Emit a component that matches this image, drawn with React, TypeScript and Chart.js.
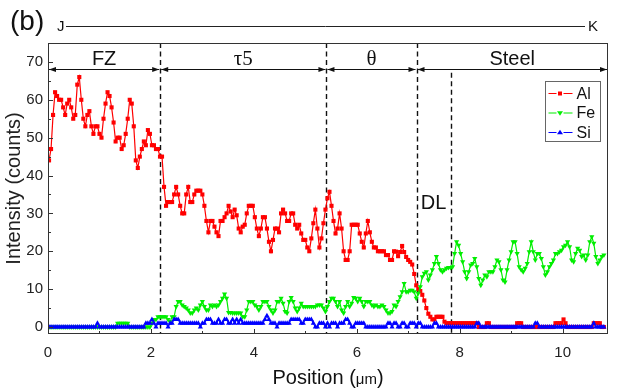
import { useEffect, useRef } from "react";
import { Chart, registerables } from "chart.js";

Chart.register(...registerables);

const SANS = '"Liberation Sans", Arial, Helvetica, sans-serif';
const SERIF = '"Liberation Serif", "Times New Roman", serif';

// ---- data ----
const X_START = 0.02;
const X_STEP = 0.0392;

const AL_COUNTS = [
  44, 47, 56, 62, 61, 60, 60, 58, 56, 59,
  60, 58, 55, 56, 64, 66, 60, 55, 53, 56,
  57, 53, 51, 53, 53, 51, 50, 55, 59, 62,
  61, 58, 54, 49, 50, 50, 47, 48, 51, 55,
  60, 59, 53, 44, 42, 45, 47, 49, 48, 52,
  51, 48, 48, 47, 47, 45, 45,
  37, 32, 33, 33, 33, 35, 37, 35, 32, 30,
  30, 35, 37, 33, 33, 35, 36, 36, 36, 35,
  32, 28, 25, 28, 28, 26.5, 25, 24, 28, 28,
  29, 30, 32, 30.5, 29, 31, 29.5, 26, 25, 26.5,
  27, 30, 32, 32, 32, 29, 26, 24, 26, 29,
  29, 26, 22.5, 20, 23, 26, 26, 25,
  30, 31, 30, 28, 28, 30, 30, 27, 26, 27,
  24.7, 23, 23, 21, 20, 23.4, 27.4, 31, 26, 21,
  23.4, 27.4, 31, 34, 35.7, 32, 28, 24.7, 26, 30,
  26, 20, 17.7, 17.7, 20, 27, 27, 27, 27, 24.7,
  22.5, 21, 24.7, 28, 25, 22.5, 21, 21, 20, 20,
  20, 20, 19, 19, 17.7, 17.7, 20,
  19.9, 18.7, 19.8, 21.4, 19.8, 18.5, 17.7, 17.2, 16.5, 14,
  11, 10, 9.5, 8.5, 7, 5, 3.5, 2.7, 2, 2,
  2.7, 2.7, 2.7, 2.7, 1.4,
  1, 1, 1, 1, 1, 1, 1, 1, 1, 1,
  1, 1, 1, 1, 1, 1, 0, 0, 0, 0,
  1, 1, 0, 0, 0, 0, 0, 0, 0, 0,
  0, 0, 0, 0, 0, 1, 1, 1, 0, 0,
  0, 0, 0, 0, 0, 0, 0, 0, 0, 0,
  0, 0, 0, 0, 1, 1, 1, 1, 2, 1,
  0, 0, 0, 0, 0, 0, 0, 0, 0, 0,
  0, 0, 0, 1, 1, 1, 1, 0, 0,
];

const FE_COUNTS = [
  0, 0, 0, 0, 0, 0, 0, 0, 0, 0,
  0, 0, 0, 0, 0, 0, 0, 0, 0, 0,
  0, 0, 0, 0, 0, 0, 0, 0, 0, 0,
  0, 0, 0, 0, 1, 1, 1, 1, 1, 1,
  0, 0, 0, 0, 0, 0, 0, 0, 0, 0,
  0, 1, 2, 2, 2.7,
  2.7, 2.7, 2.7, 2.7, 2.0, 1.4, 2.7, 2.7, 5.4, 6.7,
  6.7, 5.8, 5.4, 5, 4.5, 3.7, 3.7, 4.5, 5, 4.5,
  5.8, 6.7, 5.4, 4.5, 4.5, 5.8, 5.4, 5.8, 5.4, 5.8,
  6.7, 7.6, 8.7, 7.6, 3.8, 3.8, 3.7, 3.7, 3.7, 3.7,
  3.7, 2.7, 2.7, 4.5, 6.7, 6.7, 6.7, 5.8, 5.4, 4.5,
  5.4, 6.7, 6.7, 6.7, 5.4, 4.5, 3.7, 4.5, 6.7, 6.7,
  7.6, 6.3, 4.1, 3.7, 6.7, 7.8, 6.7, 5, 4.1, 5,
  6.3, 5.4, 5.4, 5.4, 5.4, 5.4, 5.4, 5.4, 5.8, 5.8,
  5.8, 5, 4.1, 5.4, 6.7, 7.6, 7.6, 6.7, 5.4, 6.7,
  4.5, 3.7, 5.4, 6.7, 5.4, 6.3, 7.8, 7.6, 6.7, 7.6,
  6.7, 5.4, 6.7, 6.7, 6.7, 5.8, 5.4, 5.8, 5.4, 5.4,
  5.8, 5.4, 4.5, 3.7, 3.7, 4.1, 5.8,
  5.4, 6.7, 8, 9.3, 11.5, 9.3, 9.3, 9.7, 9.7, 9.3,
  7.6, 8.9, 10.6, 13.3, 14.2, 14.6, 12.4, 13.7, 15.1, 16.8,
  18.6, 16.8, 15.1, 14.6, 15.1, 15.5, 15.7, 15.7, 15.9, 19.4,
  22.5, 21.6, 19.4, 17.2, 14.6, 12.8, 14.6, 16.4, 16.8, 18.1,
  15.9, 12.8, 11, 12.4, 13.7, 13.3, 14.6, 14.6, 14.6, 15.9,
  17.7, 17.2, 15.1,
  12.4, 11.9, 15.1, 17.7, 19.9, 22.5, 22.5, 19.4, 15.9, 15.1,
  14.6, 15.5, 16.8, 19.9, 22.5, 19.9, 17.7, 19.4, 19.4, 18.1,
  15.9, 13.7, 14.6, 15.9, 16.8, 17.7, 19.4, 19.4, 19.9, 20.3,
  21.2, 21.6, 22.5, 21.2, 17.7, 17.2, 19.4, 20.8, 20.3, 18.6,
  19, 17.7, 19, 22.5, 23.8, 22.1, 18.6, 16.8, 17.7, 18.6,
  19,
];

const SI_COUNTS = [
  0, 0, 0, 0, 0, 0, 0, 0, 0, 0,
  0, 0, 0, 0, 0, 0, 0, 0, 0, 0,
  0, 0, 0, 0, 1, 0, 0, 0, 0, 0,
  0, 0, 0, 0, 0, 0, 0, 0, 0, 0,
  0, 0, 0, 0, 0, 0, 0, 0, 1, 1,
  1, 2, 1, 0, 1,
  1, 1, 1, 1, 0, 1, 1, 2, 2, 2,
  1, 1, 1, 1, 1, 1, 1, 1, 1, 1,
  0, 1, 1, 2, 2, 2, 1, 1, 1, 2,
  1, 1, 2, 2, 1, 1, 2, 1, 2, 1,
  2, 1, 1, 1, 1, 1, 1, 1, 1, 1,
  1, 1, 2, 3, 2, 1, 1, 1, 0, 1,
  1, 1, 1, 1, 1, 2, 2, 2, 2, 2,
  1, 1, 2, 2, 2, 2, 1, 0, 0, 1,
  1, 1, 0, 1, 0, 1, 1, 1, 0, 1,
  1, 1, 2, 2, 1, 0, 0, 1, 1, 1,
  1, 1, 0, 0, 0, 0, 0, 0, 0, 0,
  0, 0, 0, 1, 1, 0, 1,
  1, 0, 0, 1, 1, 0, 0, 1, 1, 1,
  0, 1, 1, 0, 0, 0, 0, 0, 0, 1,
  1, 0, 0, 0, 0, 0, 0, 0, 0, 0,
  0, 0, 0, 0, 0, 0, 0, 0, 0, 0,
  1, 1, 0, 0, 0, 0, 0, 0, 0, 0,
  0, 0, 0, 0, 0, 0, 0, 0, 0, 0,
  0, 0, 0, 0, 0, 0, 0, 0, 0, 1,
  1, 0, 0, 0, 0, 0, 0, 0, 0, 0,
  0, 0, 0, 0, 0, 0, 0, 0, 0, 0,
  0, 0, 0, 0, 0, 0, 0, 0, 1, 0,
  0, 0, 0, 0,
];

const POSITIONS = AL_COUNTS.map((_, i) => X_START + i * X_STEP);

const SERIES_NAMES = ["Al", "Fe", "Si"];
const X_TICKS = [0, 2, 4, 6, 8, 10];
const X_MINOR_TICKS = [1, 3, 5, 7, 9];
const Y_TICKS = [0, 10, 20, 30, 40, 50, 60, 70];
const Y_MINOR_TICKS = [5, 15, 25, 35, 45, 55, 65];
const X_MIN = 0;
const X_MAX = 10.88;
const Y_MIN = -1.85;
const Y_MAX = 75;
const PHASE_LABELS = ["FZ", "τ5", "θ", "Steel"];
const PHASE_EDGES = [0, 2.18, 5.41, 7.16, 10.88];
const DL_EDGE = 7.82;
const ARROW_LEVEL = 68.2;
const DL_LABEL_POS = [7.49, 32.6];

const COLORS = ["#ff0000", "#00ee00", "#0000ff"];

function toPoints(values: number[]) {
  return values.map((v, i) => ({ x: POSITIONS[i], y: v }));
}

function drawMarker(ctx: CanvasRenderingContext2D, kind: number, x: number, y: number) {
  ctx.fillStyle = COLORS[kind];
  ctx.beginPath();
  if (kind === 0) {
    ctx.rect(x - 2, y - 2, 4, 4);
  } else if (kind === 1) {
    ctx.moveTo(x - 3, y - 1.8);
    ctx.lineTo(x + 3, y - 1.8);
    ctx.lineTo(x, y + 2.8);
    ctx.closePath();
  } else {
    ctx.moveTo(x - 3, y + 1.8);
    ctx.lineTo(x + 3, y + 1.8);
    ctx.lineTo(x, y - 2.8);
    ctx.closePath();
  }
  ctx.fill();
}

function arrowHead(ctx: CanvasRenderingContext2D, x: number, y: number, dir: number) {
  ctx.beginPath();
  ctx.moveTo(x, y);
  ctx.lineTo(x - dir * 7, y - 2.6);
  ctx.lineTo(x - dir * 7, y + 2.6);
  ctx.closePath();
  ctx.fill();
}

const overlayPlugin = {
  id: "overlay",
  beforeDatasetsDraw(chart: any) {
    const { ctx, chartArea: a, scales } = chart;
    const xs = scales.x;
    const ys = scales.y;
    ctx.save();
    ctx.strokeStyle = "#111";
    ctx.lineWidth = 1.4;
    ctx.setLineDash([5, 3.5]);
    for (let k = 1; k < PHASE_EDGES.length - 1; k++) {
      const px = Math.round(xs.getPixelForValue(PHASE_EDGES[k])) + 0.5;
      ctx.beginPath();
      ctx.moveTo(px, a.top);
      ctx.lineTo(px, a.bottom);
      ctx.stroke();
    }
    const dx = Math.round(xs.getPixelForValue(DL_EDGE)) + 0.5;
    ctx.beginPath();
    ctx.moveTo(dx, ys.getPixelForValue(ARROW_LEVEL) + 4);
    ctx.lineTo(dx, a.bottom);
    ctx.stroke();
    ctx.restore();
  },
  afterDatasetsDraw(chart: any) {
    const { ctx, chartArea: a, scales } = chart;
    const xs = scales.x;
    const ys = scales.y;
    ctx.save();
    // frame
    ctx.strokeStyle = "#333";
    ctx.lineWidth = 1;
    ctx.strokeRect(a.left + 0.5, a.top + 0.5, a.right - a.left - 1, a.bottom - a.top - 1);
    // inward ticks
    ctx.beginPath();
    X_TICKS.forEach((v) => {
      const px = Math.round(xs.getPixelForValue(v)) + 0.5;
      ctx.moveTo(px, a.bottom);
      ctx.lineTo(px, a.bottom - 5);
    });
    X_MINOR_TICKS.forEach((v) => {
      const px = Math.round(xs.getPixelForValue(v)) + 0.5;
      ctx.moveTo(px, a.bottom);
      ctx.lineTo(px, a.bottom - 3);
    });
    Y_TICKS.forEach((v) => {
      const py = Math.round(ys.getPixelForValue(v)) + 0.5;
      ctx.moveTo(a.left, py);
      ctx.lineTo(a.left + 5, py);
    });
    Y_MINOR_TICKS.forEach((v) => {
      const py = Math.round(ys.getPixelForValue(v)) + 0.5;
      ctx.moveTo(a.left, py);
      ctx.lineTo(a.left + 3, py);
    });
    ctx.stroke();

    // phase arrows
    const ay = Math.round(ys.getPixelForValue(ARROW_LEVEL)) + 0.5;
    ctx.strokeStyle = "#111";
    ctx.fillStyle = "#111";
    ctx.lineWidth = 1;
    for (let k = 0; k < PHASE_EDGES.length - 1; k++) {
      const x1 = xs.getPixelForValue(PHASE_EDGES[k]) + 1;
      const x2 = xs.getPixelForValue(PHASE_EDGES[k + 1]) - 1;
      ctx.beginPath();
      ctx.moveTo(x1, ay);
      ctx.lineTo(x2, ay);
      ctx.stroke();
      arrowHead(ctx, x1, ay, -1);
      arrowHead(ctx, x2, ay, 1);
      const cx = (xs.getPixelForValue(PHASE_EDGES[k]) + xs.getPixelForValue(PHASE_EDGES[k + 1])) / 2;
      const label = PHASE_LABELS[k];
      const serif = label === "τ5" || label === "θ";
      ctx.font = serif ? `21px ${SERIF}` : `20px ${SANS}`;
      ctx.textAlign = "center";
      ctx.textBaseline = "alphabetic";
      ctx.fillText(label, cx, ay - 5);
    }

    // DL label
    ctx.font = `20px ${SANS}`;
    ctx.textAlign = "center";
    ctx.textBaseline = "middle";
    ctx.fillStyle = "#111";
    ctx.fillText("DL", xs.getPixelForValue(DL_LABEL_POS[0]), ys.getPixelForValue(DL_LABEL_POS[1]));

    // legend
    const lx = 545.5;
    const ly = 81.5;
    ctx.strokeStyle = "#666";
    ctx.lineWidth = 1;
    ctx.strokeRect(lx, ly, 55, 60);
    SERIES_NAMES.forEach((name, k) => {
      const yy = ly + 12 + k * 19.5;
      ctx.strokeStyle = COLORS[k];
      ctx.lineWidth = 1.2;
      ctx.beginPath();
      ctx.moveTo(lx + 3, yy);
      ctx.lineTo(lx + 11, yy);
      ctx.moveTo(lx + 18, yy);
      ctx.lineTo(lx + 27, yy);
      ctx.stroke();
      drawMarker(ctx, k, lx + 14.5, yy);
      ctx.fillStyle = "#111";
      ctx.font = `16px ${SANS}`;
      ctx.textAlign = "left";
      ctx.textBaseline = "middle";
      ctx.fillText(name, lx + 31, yy + 1);
    });

    // header: (b)  J ----- K
    ctx.fillStyle = "#111";
    ctx.font = `28px ${SANS}`;
    ctx.textAlign = "left";
    ctx.textBaseline = "middle";
    ctx.fillText("(b)", 10, 22);
    ctx.font = `15px ${SANS}`;
    ctx.fillText("J", 57, 27);
    ctx.fillText("K", 588, 27);
    ctx.strokeStyle = "#222";
    ctx.lineWidth = 1;
    ctx.beginPath();
    ctx.moveTo(66, 26.5);
    ctx.lineTo(585, 26.5);
    ctx.stroke();

    // x-axis title: Position (μm)
    const part1 = "Position (";
    const part2 = "μm";
    const part3 = ")";
    ctx.font = `20px ${SANS}`;
    const w1 = ctx.measureText(part1).width;
    const w3 = ctx.measureText(part3).width;
    ctx.font = `15px ${SANS}`;
    const w2 = ctx.measureText(part2).width;
    const total = w1 + w2 + w3;
    const cx = (a.left + a.right) / 2;
    let sx = cx - total / 2;
    const by = 384;
    ctx.textBaseline = "alphabetic";
    ctx.textAlign = "left";
    ctx.font = `20px ${SANS}`;
    ctx.fillText(part1, sx, by);
    sx += w1;
    ctx.font = `15px ${SANS}`;
    ctx.fillText(part2, sx, by);
    sx += w2;
    ctx.font = `20px ${SANS}`;
    ctx.fillText(part3, sx, by);
    ctx.restore();
  },
};

export default function App() {
  const canvasRef = useRef<HTMLCanvasElement | null>(null);

  useEffect(() => {
    const canvas = canvasRef.current;
    if (!canvas) return;
    const seriesValues = [AL_COUNTS, FE_COUNTS, SI_COUNTS];
    const chart = new Chart(canvas, {
      type: "line",
      data: {
        datasets: SERIES_NAMES.map((name, k) => ({
          label: name,
          data: toPoints(seriesValues[k]),
          borderColor: COLORS[k],
          backgroundColor: COLORS[k],
          pointBackgroundColor: COLORS[k],
          pointBorderColor: COLORS[k],
          pointBorderWidth: 0,
          borderWidth: 1.2,
          pointStyle: k === 0 ? "rect" : "triangle",
          pointRotation: k === 1 ? 180 : 0,
          pointRadius: k === 0 ? 2.9 : 3,
          tension: 0,
          fill: false,
          order: 3 - k,
        })),
      },
      options: {
        responsive: false,
        animation: false,
        devicePixelRatio: 1,
        parsing: false as any,
        normalized: true,
        layout: { padding: { left: 0, right: 10, top: 43, bottom: 0 } },
        plugins: { legend: { display: false }, tooltip: { enabled: false } },
        scales: {
          x: {
            type: "linear",
            min: X_MIN,
            max: X_MAX,
            afterBuildTicks: (s: any) => {
              s.ticks = X_TICKS.map((v) => ({ value: v }));
            },
            afterFit: (s: any) => {
              s.height = 57;
            },
            grid: { display: false, drawTicks: false, tickLength: 0 },
            border: { display: false },
            ticks: {
              padding: 10,
              color: "#222",
              maxRotation: 0,
              autoSkip: false,
              font: { family: SANS, size: 15 },
            },
          },
          y: {
            type: "linear",
            min: Y_MIN,
            max: Y_MAX,
            afterBuildTicks: (s: any) => {
              s.ticks = Y_TICKS.map((v) => ({ value: v }));
            },
            afterFit: (s: any) => {
              s.width = 48;
            },
            grid: { display: false, drawTicks: false, tickLength: 0 },
            border: { display: false },
            ticks: {
              padding: 5,
              color: "#222",
              autoSkip: false,
              font: { family: SANS, size: 15 },
            },
            title: {
              display: true,
              text: "Intensity (counts)",
              color: "#222",
              font: { family: SANS, size: 20 },
              padding: { top: 2, bottom: 0 },
            },
          },
        },
      },
      plugins: [overlayPlugin],
    });
    return () => chart.destroy();
  }, []);

  return (
    <div style={{ position: "absolute", left: 0, top: 0, width: 618, height: 391, background: "#fff" }}>
      <canvas ref={canvasRef} width={618} height={391} style={{ display: "block" }} />
    </div>
  );
}
